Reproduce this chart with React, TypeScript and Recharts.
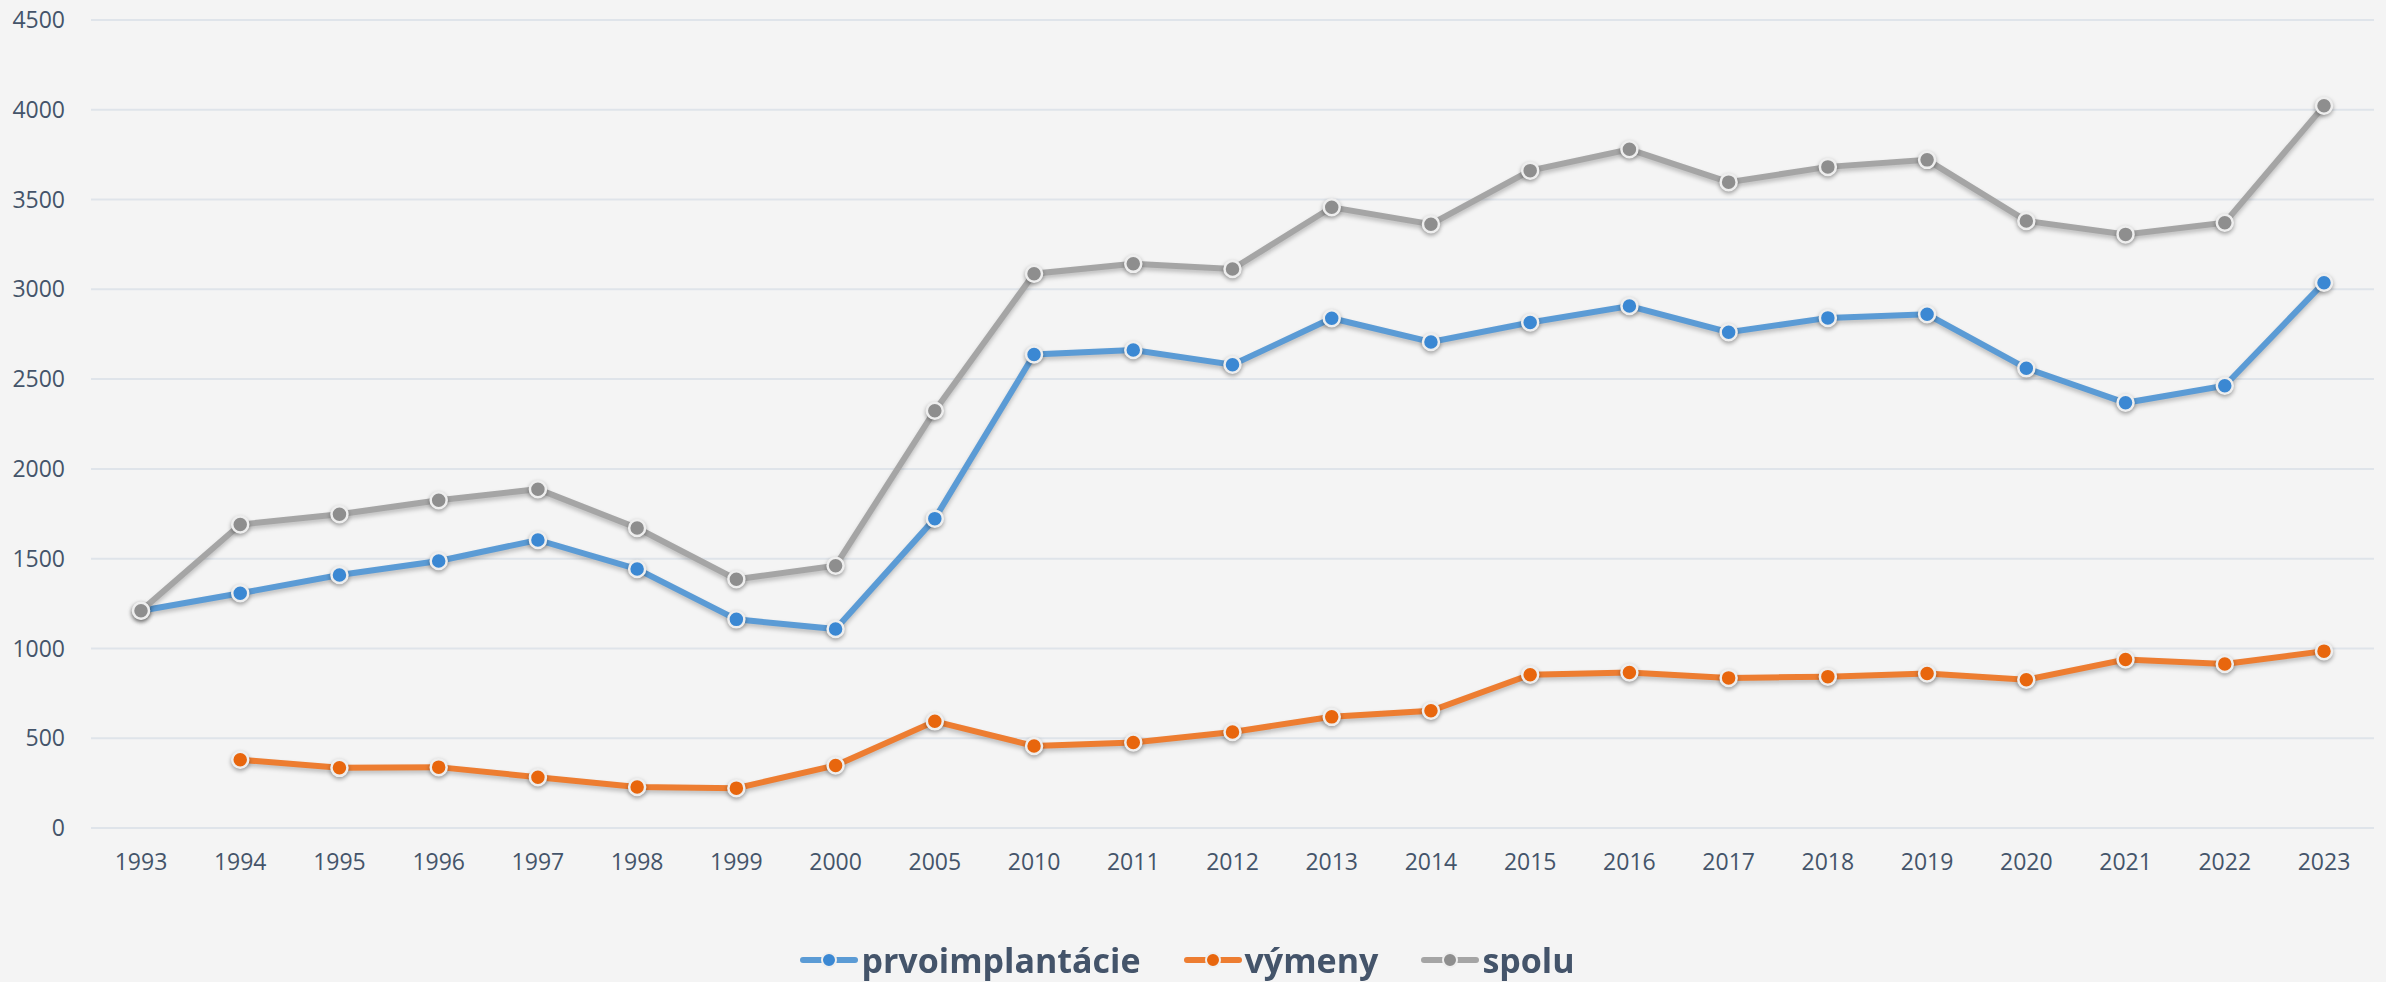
import React from 'react';
import { LineChart, Line, XAxis, YAxis, CartesianGrid, Legend } from 'recharts';

const years = ['1993', '1994', '1995', '1996', '1997', '1998', '1999', '2000', '2005', '2010', '2011', '2012', '2013', '2014', '2015', '2016', '2017', '2018', '2019', '2020', '2021', '2022', '2023'];
const prvoimplantacie = [1210, 1307, 1409, 1487, 1604, 1442, 1162, 1108, 1723, 2637, 2662, 2580, 2839, 2707, 2815, 2907, 2761, 2841, 2861, 2560, 2368, 2463, 3037];
const vymeny = [null, 380, 335, 339, 283, 228, 222, 348, 594, 457, 476, 535, 619, 653, 854, 866, 836, 843, 860, 826, 938, 913, 985];
const spolu = [1210, 1690, 1747, 1825, 1887, 1671, 1385, 1461, 2324, 3087, 3142, 3113, 3457, 3363, 3661, 3780, 3597, 3682, 3721, 3381, 3306, 3371, 4022];
const yTicks = [0, 500, 1000, 1500, 2000, 2500, 3000, 3500, 4000, 4500];

const series = [
  { key: 'prvoimplantacie', name: 'prvoimplantácie', line: '#5B9BD5', dot: '#3B88D3' },
  { key: 'vymeny', name: 'výmeny', line: '#ED7D31', dot: '#E8660D' },
  { key: 'spolu', name: 'spolu', line: '#A5A5A5', dot: '#8E8E8E' },
];

const data = years.map((y, i) => ({
  year: y,
  prvoimplantacie: prvoimplantacie[i],
  vymeny: vymeny[i],
  spolu: spolu[i],
}));

const TEXT = '#44546A';
const FONT = '"Open Sans", "Noto Sans", sans-serif';

const makeDot = (fill: string) => (props: any) => {
  const { cx, cy, index } = props;
  if (cx == null || cy == null || props.value == null) return <g key={index} />;
  return (
    <circle key={index} cx={cx} cy={cy} r={8} fill={fill} stroke="#EEEEEE" strokeWidth={2.5} style={{ filter: 'drop-shadow(0px 2px 2px rgba(0,0,0,0.35))' }} />
  );
};

const LegendContent = () => (
  <div style={{ display: 'flex', justifyContent: 'center', alignItems: 'center', height: 50, fontFamily: FONT }}>
    {series.map((s, i) => (
      <div key={s.key} style={{ display: 'flex', alignItems: 'center', marginLeft: i === 0 ? 0 : 42 }}>
        <svg width={60} height={24} style={{ marginRight: 2 }}>
          <line x1={4} y1={12} x2={56} y2={12} stroke={s.line} strokeWidth={6} strokeLinecap="round" />
          <circle cx={30} cy={12} r={7} fill={s.dot} stroke="#EEEEEE" strokeWidth={2} />
        </svg>
        <span style={{ fontSize: 34, fontWeight: 700, color: TEXT, lineHeight: '50px' }}>{s.name}</span>
      </div>
    ))}
  </div>
);

export default function App() {
  return (
    <div style={{ position: 'fixed', left: 0, top: 0, width: 2386, height: 982, background: '#F4F4F4' }}>
      <style>{`.recharts-line-curve{filter: drop-shadow(0px 3px 2px rgba(0,0,0,0.22));}`}</style>
      <LineChart width={2386} height={982} data={data} margin={{ top: 20, right: 12, bottom: 0, left: 0 }}>
        <CartesianGrid vertical={false} stroke="#DFE4EA" strokeWidth={2} />
        <XAxis
          dataKey="year"
          interval={0}
          axisLine={false}
          tickLine={false}
          tickSize={0}
          tickMargin={26}
          height={104}
          padding={{ left: 50, right: 50 }}
          tick={{ fill: TEXT, fontSize: 23, fontFamily: FONT }}
        />
        <YAxis
          domain={[0, 4500]}
          ticks={yTicks}
          interval={0}
          axisLine={false}
          tickLine={false}
          tickSize={0}
          tickMargin={26}
          width={91}
          tick={{ fill: TEXT, fontSize: 23, fontFamily: FONT }}
        />
        <Legend verticalAlign="bottom" height={50} content={<LegendContent />} wrapperStyle={{ top: 935, bottom: 'auto' }} />
        {series.map((s) => (
          <Line
            key={s.key}
            type="linear"
            dataKey={s.key}
            name={s.name}
            stroke={s.line}
            strokeWidth={6}
            dot={makeDot(s.dot)}
            activeDot={false}
            isAnimationActive={false}
          />
        ))}
      </LineChart>
    </div>
  );
}
